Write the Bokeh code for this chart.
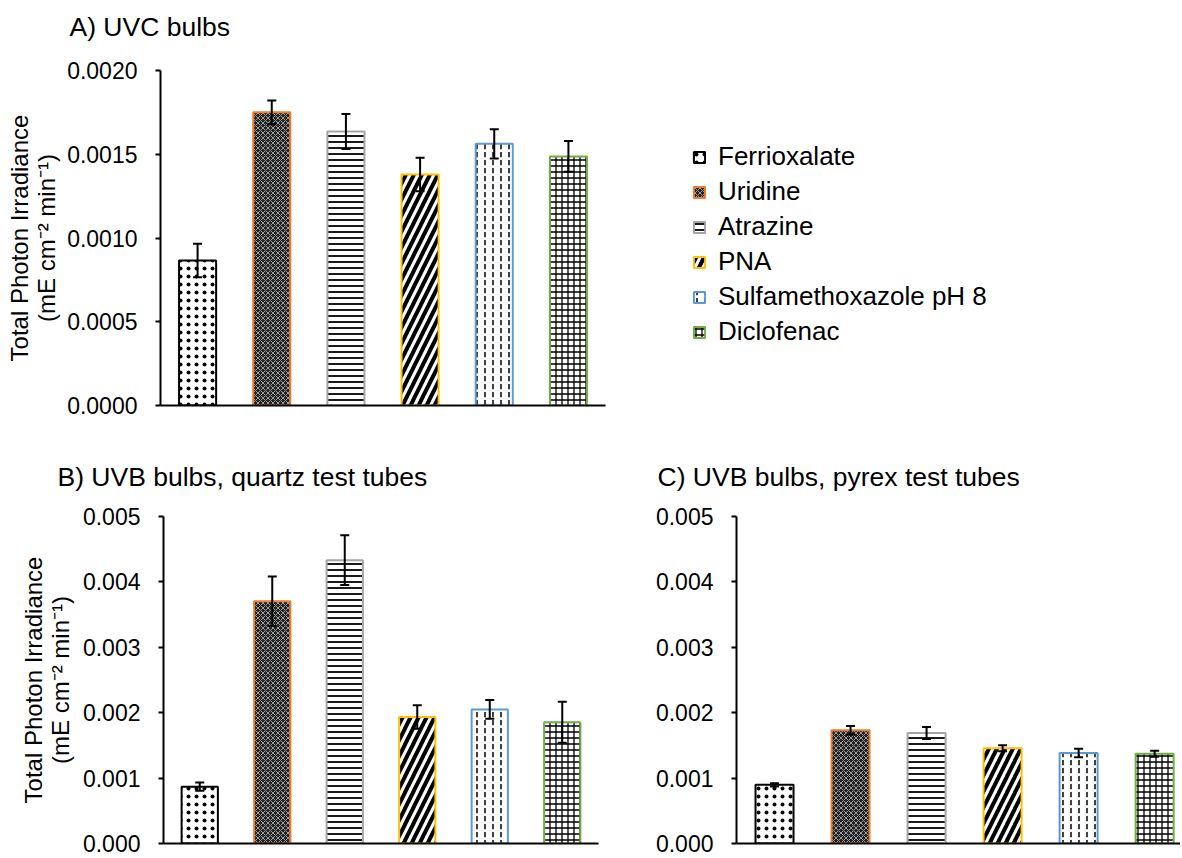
import numpy as np
from bokeh.plotting import figure
from bokeh.models import (ColumnDataSource, Range1d, FixedTicker, PrintfTickFormatter,
                          Whisker, TeeHead, Legend, LegendItem, Title)
from bokeh.layouts import column, row
from bokeh.embed import file_html
from bokeh.resources import INLINE

# ---------------- data ----------------
categories = ["Ferrioxalate", "Uridine", "Atrazine", "PNA", "Sulfamethoxazole pH 8", "Diclofenac"]

uvc_values = [0.000866, 0.001751, 0.001636, 0.001379, 0.001562, 0.001487]
uvc_errors = [0.000100, 0.000070, 0.000105, 0.000100, 0.000088, 0.000092]

uvb_quartz_values = [0.000869, 0.003704, 0.004332, 0.001935, 0.002050, 0.001854]
uvb_quartz_errors = [0.000063, 0.000380, 0.000380, 0.000180, 0.000143, 0.000314]

uvb_pyrex_values = [0.000898, 0.001731, 0.001691, 0.001457, 0.001382, 0.001372]
uvb_pyrex_errors = [0.000025, 0.000065, 0.000092, 0.000045, 0.000065, 0.000045]

ticks_a = [0.0, 0.0005, 0.0010, 0.0015, 0.0020]
ticks_bc = [0.0, 0.001, 0.002, 0.003, 0.004, 0.005]

titles = ["A) UVC bulbs", "B) UVB bulbs, quartz test tubes", "C) UVB bulbs, pyrex test tubes"]
y_label = "Total Photon Irradiance\n(mE cm\u207b\u00b2 min\u207b\u00b9)"

# ---------------- styles ----------------
line_colors = ["#000000", "#ED7D31", "#A5A5A5", "#FFC000", "#5B9BD5", "#70AD47"]
fill_colors = ["#ffffff", "#222222", "#ffffff", "#ffffff", "#ffffff", "#ffffff"]
hatch_patterns = ["dot", "diagonal_cross", "horizontal_line", "right_diagonal_line", "vertical_dash", "cross"]
hatch_colors = ["#000000", "#bbbbbb", "#000000", "#000000", "#000000", "#000000"]
hatch_scales = [8, 5, 6, 16, 8, 6]
hatch_weights = [1.0, 0.8, 1.8, 4.0, 1.5, 1.3]

FONT = "Liberation Sans"


def make_panel(values, errors, ticks, fmt, title, frame_w, frame_h, x_end,
               mb_left, mb_right, mb_top, mb_bottom, title_dx, title_gap,
               with_label, label_standoff):
    n = len(categories)
    x = np.arange(n) + 0.5
    vals = np.array(values)
    errs = np.array(errors)
    src = ColumnDataSource(dict(
        x=x, top=vals, upper=vals + errs, lower=vals - errs, name=categories,
        line_color=line_colors, fill_color=fill_colors, hatch_pattern=hatch_patterns,
        hatch_color=hatch_colors, hatch_scale=hatch_scales, hatch_weight=hatch_weights))

    p = figure(frame_width=frame_w, frame_height=frame_h,
               min_border_left=mb_left, min_border_right=mb_right,
               min_border_top=mb_top, min_border_bottom=mb_bottom,
               x_range=Range1d(0, x_end), y_range=Range1d(ticks[0], ticks[-1]),
               output_backend="svg", toolbar_location=None, tools="")

    r = p.vbar(x="x", top="top", bottom=0, width=0.5, source=src,
               fill_color="fill_color", line_color="line_color", line_width=2,
               hatch_pattern="hatch_pattern", hatch_color="hatch_color",
               hatch_scale="hatch_scale", hatch_weight="hatch_weight")

    w = Whisker(source=src, base="x", upper="upper", lower="lower",
                line_color="black", line_width=2, level="overlay",
                upper_head=TeeHead(size=9, line_width=2, line_color="black"),
                lower_head=TeeHead(size=9, line_width=2, line_color="black"))
    p.add_layout(w)

    # spacer between frame and panel title, then the title itself
    p.add_layout(Title(text=" ", text_font_size="1px", standoff=title_gap), "above")
    p.add_layout(Title(text=title, align="left", offset=title_dx, standoff=0,
                       vertical_align="bottom", text_font=FONT, text_font_size="26.5px",
                       text_font_style="normal", text_color="black"), "above")

    p.xgrid.visible = False
    p.ygrid.visible = False
    p.outline_line_color = None

    xa = p.xaxis[0]
    xa.ticker = FixedTicker(ticks=[])
    xa.axis_line_width = 2
    xa.axis_line_color = "black"
    xa.major_tick_out = 0
    xa.major_tick_in = 0
    xa.minor_tick_out = 0
    xa.minor_tick_in = 0
    xa.major_label_standoff = 0
    xa.major_label_text_font_size = "0px"

    ya = p.yaxis[0]
    ya.ticker = FixedTicker(ticks=ticks)
    ya.formatter = PrintfTickFormatter(format=fmt)
    ya.axis_line_width = 2
    ya.axis_line_color = "black"
    ya.major_tick_line_width = 2
    ya.major_tick_line_color = "black"
    ya.major_tick_out = 5
    ya.major_tick_in = 0
    ya.minor_tick_out = 0
    ya.minor_tick_in = 0
    ya.major_label_standoff = 18
    ya.major_label_text_font = FONT
    ya.major_label_text_font_size = "23px"
    ya.major_label_text_color = "black"
    if with_label:
        ya.axis_label = y_label
        ya.axis_label_text_font = FONT
        ya.axis_label_text_font_size = "24px"
        ya.axis_label_text_font_style = "normal"
        ya.axis_label_text_color = "black"
        ya.axis_label_text_line_height = 1.0
        ya.axis_label_standoff = label_standoff
    return p, r


pA, rA = make_panel(uvc_values, uvc_errors, ticks_a, "%.4f", titles[0],
                    445, 335, 6, 160, 569, 70, 35, -91, 26, True, 4)
pB, rB = make_panel(uvb_quartz_values, uvb_quartz_errors, ticks_bc, "%.3f", titles[1],
                    435, 327, 6, 163, 20, 76, 13, -106, 22, True, 6)
pC, rC = make_panel(uvb_pyrex_values, uvb_pyrex_errors, ticks_bc, "%.3f", titles[2],
                    444, 327, 5.84, 118, 0, 76, 13, -79, 22, False, 0)

legend = Legend(items=[LegendItem(label=c, renderers=[rA], index=i) for i, c in enumerate(categories)],
                location=(87, 58), margin=0, padding=0, spacing=4,
                glyph_width=14, glyph_height=14, label_standoff=12,
                label_text_font=FONT, label_text_font_size="26px", label_text_color="black",
                border_line_alpha=0, background_fill_alpha=0)
pA.add_layout(legend, "right")

layout = column(pA, row(pB, pC))

open("out.html", "w").write(file_html(layout, INLINE))
